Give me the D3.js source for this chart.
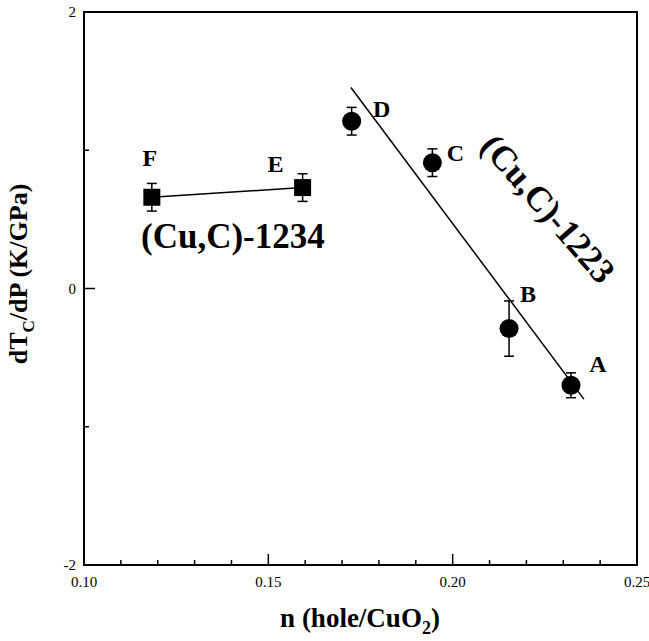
<!DOCTYPE html>
<html>
<head>
<meta charset="utf-8">
<script src="https://cdn.jsdelivr.net/npm/d3@7"></script>
<style>
  body { margin: 0; background: white; }
  text { font-family: "Liberation Serif", "Times New Roman", serif; }
</style>
</head>
<body>
<svg width="649" height="641"></svg>
<script>
// data
var labels1223 = ['D', 'C', 'B', 'A'];
var n1223 = [0.1726, 0.1945, 0.2153, 0.2321];
var dtdp1223 = [1.21, 0.91, -0.29, -0.70];
var err1223 = [0.10, 0.10, 0.20, 0.09];

var labels1234 = ['F', 'E'];
var n1234 = [0.1184, 0.1593];
var dtdp1234 = [0.66, 0.73];
var err1234 = [0.10, 0.10];

// fitted line for (Cu,C)-1223, endpoints
var fitN = [0.1724, 0.2356];
var fitY = [1.454, -0.80];

var xTickLabels = [0.10, 0.15, 0.20, 0.25];
var yTickLabels = [-2, 0, 2];

var svg = d3.select('svg');
var x = d3.scaleLinear().domain([0.10, 0.25]).range([84, 637]);
var y = d3.scaleLinear().domain([-2, 2]).range([565, 12]);

// ---- ticks (pointing inwards) ----
var xMinor = d3.range(11, 25).map(function(d){ return d/100; }).filter(function(d){ return Math.round(d*100) % 5 != 0; });
var xMajor = [0.15, 0.20];
var g = svg.append('g');
g.selectAll('.xminor').data(xMinor).enter().append('line')
  .attr('x1', function(d){ return x(d); }).attr('x2', function(d){ return x(d); })
  .attr('y1', y(-2)).attr('y2', y(-2) - 5).style('stroke', 'black').style('stroke-width', 1.5);
g.selectAll('.xmajor').data(xMajor).enter().append('line')
  .attr('x1', function(d){ return x(d); }).attr('x2', function(d){ return x(d); })
  .attr('y1', y(-2)).attr('y2', y(-2) - 11).style('stroke', 'black').style('stroke-width', 1.5);
g.selectAll('.yminor').data([-1, 1]).enter().append('line')
  .attr('x1', x(0.10)).attr('x2', x(0.10) + 5)
  .attr('y1', function(d){ return y(d); }).attr('y2', function(d){ return y(d); }).style('stroke', 'black').style('stroke-width', 1.5);
g.selectAll('.ymajor').data([0]).enter().append('line')
  .attr('x1', x(0.10)).attr('x2', x(0.10) + 11)
  .attr('y1', function(d){ return y(d); }).attr('y2', function(d){ return y(d); }).style('stroke', 'black').style('stroke-width', 1.5);

// frame
svg.append('rect').attr('x', x(0.10)).attr('y', y(2)).attr('width', x(0.25) - x(0.10)).attr('height', y(-2) - y(2))
  .style('fill', 'none').style('stroke', 'black').style('stroke-width', 2);

// tick labels
svg.selectAll('.xlab').data(xTickLabels).enter().append('text')
  .attr('x', function(d){ return x(d); }).attr('y', y(-2) + 22)
  .style('text-anchor', 'middle').style('font-size', '15px')
  .text(function(d){ return d3.format('.2f')(d); });
svg.selectAll('.ylab').data(yTickLabels).enter().append('text')
  .attr('x', x(0.10) - 8).attr('y', function(d){ return y(d) + 5; })
  .style('text-anchor', 'end').style('font-size', '15px')
  .text(function(d){ return d; });

// axis titles
var xt = svg.append('text').attr('x', 360).attr('y', 627).style('text-anchor', 'middle')
  .style('font-size', '27px').style('font-weight', 'bold');
xt.append('tspan').text('n (hole/CuO');
xt.append('tspan').attr('dy', 7).style('font-size', '18px').text('2');
xt.append('tspan').attr('dy', -7).text(')');

var yt = svg.append('text').attr('transform', 'translate(27,274) rotate(-90)').style('text-anchor', 'middle')
  .style('font-size', '26px').style('font-weight', 'bold');
yt.append('tspan').text('dT');
yt.append('tspan').attr('dy', 7).style('font-size', '17px').text('C');
yt.append('tspan').attr('dy', -7).text('/dP (K/GPa)');

// ---- lines ----
svg.append('line').attr('x1', x(fitN[0])).attr('y1', y(fitY[0])).attr('x2', x(fitN[1])).attr('y2', y(fitY[1]))
  .style('stroke', 'black').style('stroke-width', 1.5);
svg.append('line').attr('x1', x(n1234[0])).attr('y1', y(dtdp1234[0])).attr('x2', x(n1234[1])).attr('y2', y(dtdp1234[1]))
  .style('stroke', 'black').style('stroke-width', 1.5);

// ---- error bars ----
function errorBars(ns, vals, errs){
  var eg = svg.append('g');
  ns.forEach(function(n, i){
    var cx = x(n), y1 = y(vals[i] + errs[i]), y2 = y(vals[i] - errs[i]);
    eg.append('line').attr('x1', cx).attr('x2', cx).attr('y1', y1).attr('y2', y2).style('stroke', 'black').style('stroke-width', 1.5);
    eg.append('line').attr('x1', cx - 5).attr('x2', cx + 5).attr('y1', y1).attr('y2', y1).style('stroke', 'black').style('stroke-width', 1.5);
    eg.append('line').attr('x1', cx - 5).attr('x2', cx + 5).attr('y1', y2).attr('y2', y2).style('stroke', 'black').style('stroke-width', 1.5);
  });
}
errorBars(n1223, dtdp1223, err1223);
errorBars(n1234, dtdp1234, err1234);

// ---- markers ----
svg.selectAll('.circ').data(n1223).enter().append('circle')
  .attr('cx', function(d){ return x(d); }).attr('cy', function(d, i){ return y(dtdp1223[i]); })
  .attr('r', 9.5).style('fill', 'black');
svg.selectAll('.sq').data(n1234).enter().append('rect')
  .attr('x', function(d){ return x(d) - 8.5; }).attr('y', function(d, i){ return y(dtdp1234[i]) - 8.5; })
  .attr('width', 17).attr('height', 17).style('fill', 'black');

// ---- point letters ----
var letterOffsets1223 = [[30, -4], [23, -2], [19, -27], [27, -13]];
svg.selectAll('.l1223').data(labels1223).enter().append('text')
  .attr('x', function(d, i){ return x(n1223[i]) + letterOffsets1223[i][0]; })
  .attr('y', function(d, i){ return y(dtdp1223[i]) + letterOffsets1223[i][1]; })
  .style('text-anchor', 'middle').style('font-size', '24px').style('font-weight', 'bold')
  .text(function(d){ return d; });
var letterOffsets1234 = [[-2, -31], [-27, -16]];
svg.selectAll('.l1234').data(labels1234).enter().append('text')
  .attr('x', function(d, i){ return x(n1234[i]) + letterOffsets1234[i][0]; })
  .attr('y', function(d, i){ return y(dtdp1234[i]) + letterOffsets1234[i][1]; })
  .style('text-anchor', 'middle').style('font-size', '24px').style('font-weight', 'bold')
  .text(function(d){ return d; });

// ---- series names ----
svg.append('text').attr('x', 141).attr('y', 248)
  .style('font-size', '35px').style('font-weight', 'bold').text('(Cu,C)-1234');
svg.append('text').attr('transform', 'translate(479,147) rotate(49)')
  .style('font-size', '35px').style('font-weight', 'bold').text('(Cu,C)-1223');
</script>
</body>
</html>
